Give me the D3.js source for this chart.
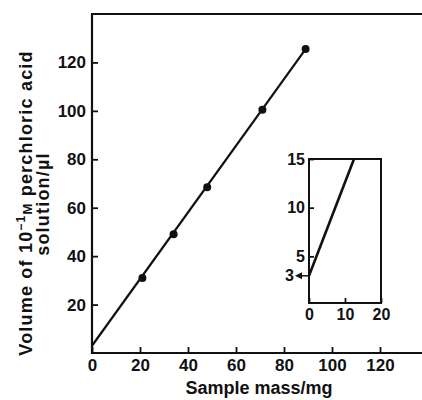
<!DOCTYPE html>
<html>
<head>
<meta charset="utf-8">
<script src="https://cdn.jsdelivr.net/npm/d3@7"></script>
<style>
  body { margin: 0; background: #fff; }
  text { font-family: "Liberation Sans", Arial, sans-serif; font-weight: bold; fill: #111; }
</style>
</head>
<body>
<div id="chart"></div>
<script>
// measured points
const sampleMass = [21, 34, 48, 71, 89];
const acidVolume = [31, 49, 68.5, 100.5, 125.5];
// fitted line ends
const fitMass = [0, 89];
const fitVolume = [3, 125.5];
const xTicks = [0, 20, 40, 60, 80, 100, 120];
const yTicks = [20, 40, 60, 80, 100, 120];
// inset (expanded view near origin)
const insetMass = [0, 12.5];
const insetVolume = [3, 15];
const insetXTicks = [0, 10, 20];
const insetYTicks = [5, 10, 15];
const interceptValue = 3;

const W = 422, H = 400;
const margin = { top: 14, right: 0, bottom: 47, left: 92 };

const svg = d3.select("#chart").append("svg")
    .attr("width", W)
    .attr("height", H);

const x = d3.scaleLinear().domain([0, 137.5]).range([margin.left, W - margin.right]);
const y = d3.scaleLinear().domain([0, 140]).range([H - margin.bottom, margin.top]);

// frame: left, top, bottom
svg.append("path")
    .attr("fill", "none")
    .attr("stroke", "#111")
    .attr("stroke-width", 2.2)
    .attr("d", `M${W},${y(140)}H${x(0)}V${y(0)}H${W}`);

function styleAxis(g, size) {
    g.select(".domain").remove();
    g.selectAll("line").attr("stroke", "#111").attr("stroke-width", 1.8);
    g.selectAll("text").attr("font-size", size).attr("font-family", null).attr("fill", "#111");
}

// y axis (ticks inside)
const yAxis = svg.append("g")
    .attr("transform", `translate(${x(0)},0)`)
    .call(d3.axisLeft(y).tickValues(yTicks).tickSize(-6).tickPadding(6));
styleAxis(yAxis, 17);

// x axis (ticks inside)
const xAxis = svg.append("g")
    .attr("transform", `translate(0,${y(0)})`)
    .call(d3.axisBottom(x).tickValues(xTicks).tickSize(-6).tickPadding(6));
styleAxis(xAxis, 17);

// fitted line
svg.append("path")
    .datum(d3.zip(fitMass, fitVolume))
    .attr("fill", "none")
    .attr("stroke", "#111")
    .attr("stroke-width", 2.2)
    .attr("d", d3.line().x(d => x(d[0])).y(d => y(d[1])));

svg.selectAll("circle.pt")
    .data(d3.zip(sampleMass, acidVolume))
    .enter().append("circle")
    .attr("class", "pt")
    .attr("cx", d => x(d[0]))
    .attr("cy", d => y(d[1]))
    .attr("r", 4)
    .attr("fill", "#111");

// axis titles
svg.append("text")
    .attr("x", 259)
    .attr("y", 394)
    .attr("text-anchor", "middle")
    .attr("font-size", 18)
    .text("Sample mass/mg");

const yTitle = svg.append("text")
    .attr("transform", "translate(32,203) rotate(-90)")
    .attr("text-anchor", "middle")
    .attr("font-size", 18)
    .attr("letter-spacing", 1.2);
yTitle.append("tspan").text("Volume of 10");
yTitle.append("tspan").attr("dy", -7).attr("font-size", 12).text("\u22121");
yTitle.append("tspan").attr("dy", 7).attr("font-size", 13).text("M");
yTitle.append("tspan").text(" perchloric acid");

svg.append("text")
    .attr("transform", "translate(49,204) rotate(-90)")
    .attr("text-anchor", "middle")
    .attr("font-size", 18)
    .attr("letter-spacing", 1.2)
    .text("solution/\u00b5l");

// inset
const ix = d3.scaleLinear().domain([0, 20]).range([309, 381]);
const iy = d3.scaleLinear().domain([0, 15]).range([305, 159]);

svg.append("rect")
    .attr("x", ix(0)).attr("y", iy(15))
    .attr("width", ix(20) - ix(0)).attr("height", iy(0) - iy(15) - 2)
    .attr("fill", "none").attr("stroke", "#111").attr("stroke-width", 2);

const iyAxis = svg.append("g")
    .attr("transform", `translate(${ix(0)},0)`)
    .call(d3.axisLeft(iy).tickValues(insetYTicks).tickSize(-5).tickPadding(4));
styleAxis(iyAxis, 16);

const ixAxis = svg.append("g")
    .attr("transform", `translate(0,${iy(0) - 2})`)
    .call(d3.axisBottom(ix).tickValues(insetXTicks).tickSize(-5).tickPadding(6));
styleAxis(ixAxis, 16);

svg.append("path")
    .datum(d3.zip(insetMass, insetVolume))
    .attr("fill", "none")
    .attr("stroke", "#111")
    .attr("stroke-width", 2.6)
    .attr("d", d3.line().x(d => ix(d[0])).y(d => iy(d[1])));

// arrow marking the intercept
const ay = iy(interceptValue);
svg.append("line")
    .attr("x1", ix(0)).attr("y1", ay)
    .attr("x2", ix(0) - 10).attr("y2", ay)
    .attr("stroke", "#111").attr("stroke-width", 1.5);
svg.append("path")
    .attr("d", `M${ix(0) - 14},${ay}l7,-3.5v7z`)
    .attr("fill", "#111");
svg.append("text")
    .attr("x", ix(0) - 15)
    .attr("y", ay)
    .attr("dy", "0.35em")
    .attr("text-anchor", "end")
    .attr("font-size", 16)
    .text(interceptValue);
</script>
</body>
</html>
